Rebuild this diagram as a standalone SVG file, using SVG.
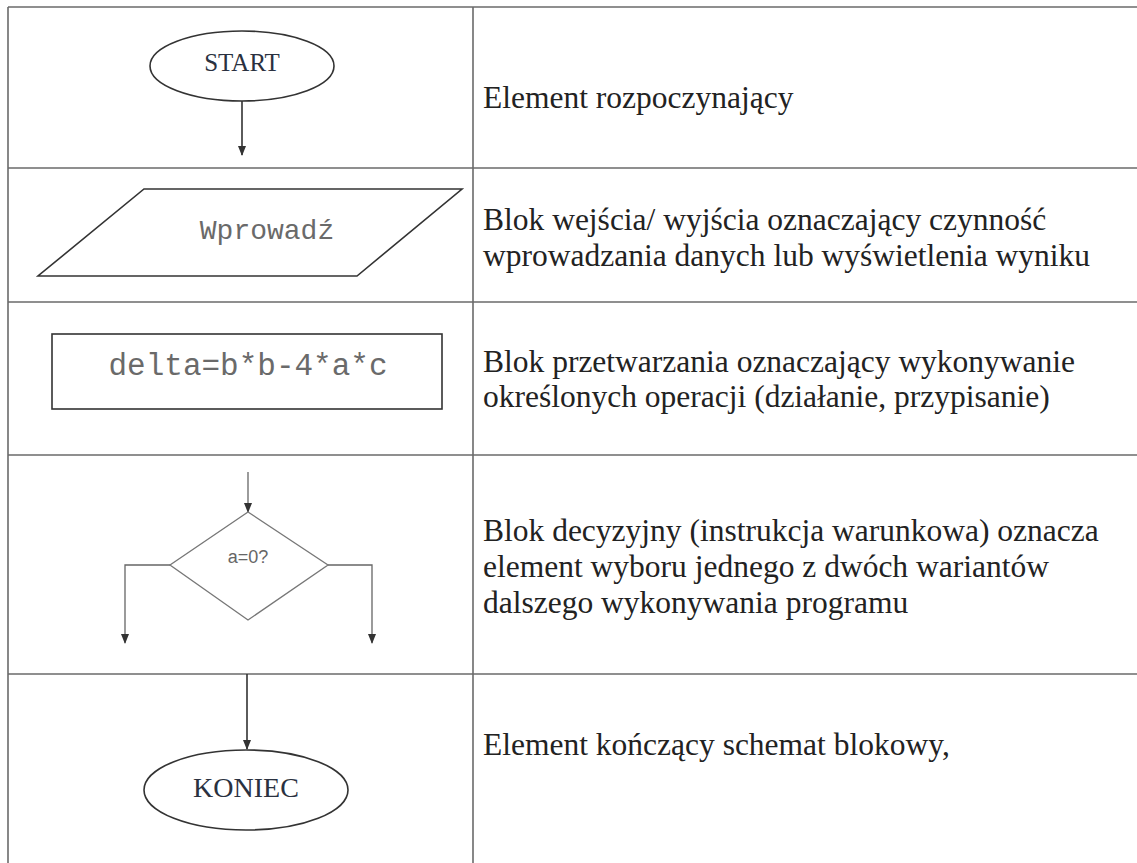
<svg xmlns="http://www.w3.org/2000/svg" width="1137" height="863" viewBox="0 0 1137 863">
<style>
.grid{stroke:#6a6a6a;stroke-width:1.6;fill:none}
.shape{fill:#fff;stroke:#333;stroke-width:1.6}
.thin{fill:#fff;stroke:#777;stroke-width:1.3}
.conn{fill:none;stroke:#333;stroke-width:1.6}
.connthin{fill:none;stroke:#666;stroke-width:1.3}
.term{font-family:"Liberation Serif","Times New Roman",serif;fill:#2a3140;text-anchor:middle}
.mono{font-family:"Liberation Mono","Courier New",monospace;fill:#6a6a6a;text-anchor:middle}
.desc{font-family:"Liberation Serif","Times New Roman",serif;font-size:31.5px;fill:#222}
.dec{font-family:"Liberation Sans",Arial,sans-serif;font-size:18px;fill:#666;text-anchor:middle}
</style>
<defs>
<marker id="ah" markerWidth="10" markerHeight="12" refX="9" refY="5" orient="auto" markerUnits="userSpaceOnUse" viewBox="0 0 10 10">
<path d="M0,1 L10,5 L0,9 Z" fill="#333"/>
</marker>
</defs>
<rect width="1137" height="863" fill="#fff"/>
<g id="table" class="grid">
<line x1="8" y1="7" x2="1137" y2="7"/>
<line x1="8" y1="7" x2="8" y2="863"/>
<line x1="473" y1="7" x2="473" y2="863"/>
<line x1="8" y1="168" x2="1137" y2="168"/>
<line x1="8" y1="302" x2="1137" y2="302"/>
<line x1="8" y1="455" x2="1137" y2="455"/>
<line x1="8" y1="674" x2="1137" y2="674"/>
</g>
<g id="connectors">
<line class="conn" x1="242" y1="101" x2="242" y2="155" marker-end="url(#ah)"/>
<line class="connthin" x1="248" y1="472" x2="248" y2="512" marker-end="url(#ah)"/>
<polyline class="connthin" points="170,565 125,565 125,643" marker-end="url(#ah)"/>
<polyline class="connthin" points="328,565 372,565 372,643" marker-end="url(#ah)"/>
<line class="conn" x1="247" y1="674" x2="247" y2="749" marker-end="url(#ah)"/>
</g>
<g id="start">
<ellipse class="shape" cx="242" cy="66" rx="92" ry="35"/>
<text class="term" x="242" y="71" font-size="25">START</text>
</g>
<g id="io">
<polygon class="shape" points="144,189 462,189 357,276 38,276"/>
<text class="mono" x="267" y="239" font-size="28">Wprowadź</text>
</g>
<g id="process">
<rect class="shape" x="52" y="334" width="390" height="75"/>
<text class="mono" x="248" y="375" font-size="31">delta=b*b-4*a*c</text>
</g>
<g id="decision">
<polygon class="thin" points="248,512 328,565 248,620 170,565"/>
<text class="dec" x="248" y="563">a=0?</text>
</g>
<g id="end">
<ellipse class="shape" cx="246" cy="790" rx="102" ry="40"/>
<text class="term" x="246" y="797" font-size="28">KONIEC</text>
</g>
<g id="descriptions" class="desc">
<text x="483" y="108">Element rozpoczynający</text>
<text x="483" y="230">Blok wejścia/ wyjścia oznaczający czynność</text>
<text x="483" y="266">wprowadzania danych lub wyświetlenia wyniku</text>
<text x="483" y="372">Blok przetwarzania oznaczający wykonywanie</text>
<text x="483" y="407">określonych operacji (działanie, przypisanie)</text>
<text x="483" y="541">Blok decyzyjny (instrukcja warunkowa) oznacza</text>
<text x="483" y="577">element wyboru jednego z dwóch wariantów</text>
<text x="483" y="613">dalszego wykonywania programu</text>
<text x="483" y="755">Element kończący schemat blokowy,</text>
</g>
</svg>
